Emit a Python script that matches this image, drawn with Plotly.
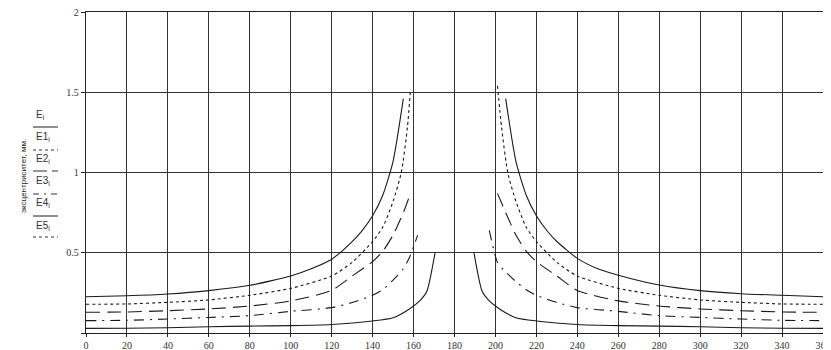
import plotly.graph_objects as go

# ---- data (angle, eccentricity) ----
E_xl = [0, 20, 40, 60, 80, 100, 110, 120, 130, 135, 140, 145, 150, 155]
E_yl = [0.226, 0.232, 0.243, 0.264, 0.297, 0.355, 0.40, 0.46, 0.57, 0.64, 0.73, 0.86, 1.07, 1.46]
E_xr = [205, 210, 215, 220, 225, 230, 240, 250, 260, 280, 300, 320, 340, 360]
E_yr = [1.46, 1.07, 0.86, 0.73, 0.64, 0.57, 0.465, 0.40, 0.36, 0.299, 0.264, 0.245, 0.235, 0.226]

E1_xl = [0, 20, 40, 60, 80, 100, 120, 130, 140, 145, 150, 154, 157, 158.5]
E1_yl = [0.179, 0.181, 0.191, 0.206, 0.235, 0.278, 0.355, 0.44, 0.57, 0.66, 0.82, 1.0, 1.28, 1.52]
E1_xr = [201, 203, 206, 210, 215, 220, 230, 240, 260, 280, 300, 320, 340, 360]
E1_yr = [1.54, 1.28, 1.0, 0.82, 0.66, 0.57, 0.44, 0.355, 0.278, 0.235, 0.206, 0.191, 0.181, 0.179]

E2_xl = [0, 20, 40, 60, 80, 100, 120, 130, 140, 145, 150, 155, 158.5]
E2_yl = [0.129, 0.131, 0.139, 0.15, 0.168, 0.20, 0.265, 0.355, 0.445, 0.51, 0.61, 0.75, 0.87]
E2_xr = [201, 205, 210, 215, 220, 230, 240, 260, 280, 300, 320, 340, 360]
E2_yr = [0.87, 0.75, 0.61, 0.51, 0.445, 0.355, 0.265, 0.20, 0.168, 0.15, 0.139, 0.131, 0.129]

E3_xl = [0, 20, 40, 60, 80, 100, 120, 130, 140, 145, 150, 155, 158, 162]
E3_yl = [0.077, 0.079, 0.087, 0.097, 0.108, 0.135, 0.158, 0.19, 0.235, 0.27, 0.33, 0.40, 0.47, 0.61]
E3_xr = [197, 201, 205, 210, 215, 220, 230, 240, 260, 280, 300, 320, 340, 360]
E3_yr = [0.64, 0.44, 0.38, 0.32, 0.27, 0.235, 0.19, 0.158, 0.135, 0.108, 0.097, 0.087, 0.079, 0.077]

E4_xl = [0, 20, 40, 60, 80, 100, 120, 140, 150, 158, 163, 166.5, 170.5]
E4_yl = [0.029, 0.030, 0.033, 0.039, 0.043, 0.046, 0.053, 0.075, 0.095, 0.15, 0.2, 0.26, 0.5]
E4_xr = [189.5, 193.5, 197, 202, 210, 220, 240, 260, 280, 300, 320, 340, 360]
E4_yr = [0.5, 0.26, 0.2, 0.15, 0.095, 0.075, 0.053, 0.046, 0.043, 0.039, 0.033, 0.030, 0.029]

series = [
    ("E", E_xl, E_yl, E_xr, E_yr, "solid"),
    ("E1", E1_xl, E1_yl, E1_xr, E1_yr, "dot"),
    ("E2", E2_xl, E2_yl, E2_xr, E2_yr, "14px,7px"),
    ("E3", E3_xl, E3_yl, E3_xr, E3_yr, "10px,6px,2px,6px"),
    ("E4", E4_xl, E4_yl, E4_xr, E4_yr, "solid"),
]

x_ticks = list(range(0, 361, 20))
y_ticks = [0, 0.5, 1, 1.5, 2]
y_ticktext = ["", "0.5", "1", "1.5", "2"]

legend_names = ["E<sub>i</sub>", "E1<sub>i</sub>", "E2<sub>i</sub>", "E3<sub>i</sub>", "E4<sub>i</sub>", "E5<sub>i</sub>"]
legend_dash = ["solid", "dot", "14px,5px", "6px,5px,2px,5px", "solid", "dot"]

fig = go.Figure()
for name, xl, yl, xr, yr, dash in series:
    fig.add_trace(go.Scatter(
        x=xl + [None] + xr, y=yl + [None] + yr, mode="lines", name=name,
        line=dict(color="#1a1a1a", width=1.1, dash=dash, shape="spline", smoothing=0.6),
        connectgaps=False, showlegend=False, hoverinfo="skip"))

# ---- plot geometry (page has an 8px body margin) ----
OFF = 8
W, H = 831 - OFF, 350 - OFF
L, R, T, B = 86 - OFF, 8, 12 - OFF, 17
pw, ph = W - L - R, H - T - B

def px2paper_x(px):
    return (px - OFF - L) / pw

def py2paper_y(py):
    return (H - B - (py - OFF)) / ph

shapes = []
annotations = []
text_y = [115, 137, 159, 181, 203, 226]
line_y = [127, 150, 171, 194, 216, 237]
for i, nm in enumerate(legend_names):
    annotations.append(dict(
        xref="paper", yref="paper", x=px2paper_x(34), y=py2paper_y(text_y[i]),
        xanchor="left", yanchor="middle", text=nm, showarrow=False,
        font=dict(family="Liberation Sans", size=10, color="#333")))
    shapes.append(dict(
        type="line", xref="paper", yref="paper",
        x0=px2paper_x(33), x1=px2paper_x(58),
        y0=py2paper_y(line_y[i]), y1=py2paper_y(line_y[i]),
        line=dict(color="#333", width=1.1, dash=legend_dash[i])))

annotations.append(dict(
    xref="paper", yref="paper", x=px2paper_x(23), y=py2paper_y(176),
    xanchor="center", yanchor="middle", text="эксцентриситет, мм.",
    textangle=-90, showarrow=False,
    font=dict(family="Liberation Sans", size=8, color="#222")))

fig.update_layout(
    width=W, height=H,
    margin=dict(l=L, r=R, t=T, b=B, pad=0, autoexpand=False),
    paper_bgcolor="white", plot_bgcolor="white",
    shapes=shapes, annotations=annotations,
    showlegend=False,
)
fig.update_xaxes(
    range=[0, 360], tickvals=x_ticks, ticktext=[str(v) for v in x_ticks],
    automargin=False, ticklabeloverflow="allow",
    showgrid=True, gridcolor="#333", gridwidth=1.3,
    showline=True, linecolor="#222", linewidth=1.3, mirror=True,
    ticks="outside", ticklen=3, tickcolor="#222",
    tickfont=dict(family="Liberation Serif", size=10, color="#333"),
    zeroline=False)
fig.update_yaxes(
    range=[0, 2], tickvals=y_ticks, ticktext=y_ticktext,
    automargin=False, ticklabeloverflow="allow",
    showgrid=True, gridcolor="#333", gridwidth=1.3,
    showline=True, linecolor="#222", linewidth=1.3, mirror=True,
    ticks="outside", ticklen=4, tickcolor="#222",
    tickfont=dict(family="Liberation Serif", size=10, color="#333"),
    zeroline=False)

fig.write_html("out.html")
